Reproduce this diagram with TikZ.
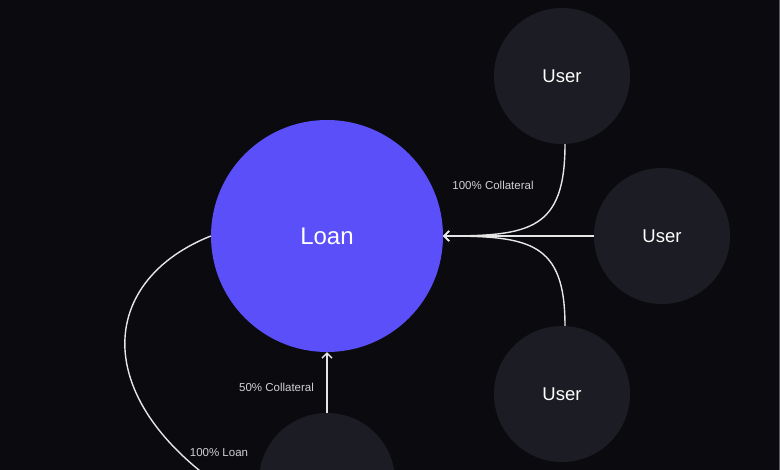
\documentclass[tikz,border=0pt]{standalone}
\usepackage{fontspec}
\setmainfont{Liberation Sans}
\usetikzlibrary{arrows.meta}
\definecolor{bg}{HTML}{0B0B0F}
\definecolor{loanc}{HTML}{5A4FF9}
\definecolor{userc}{HTML}{1C1C24}
\definecolor{linec}{HTML}{E6E6E6}
\definecolor{labc}{HTML}{D0D0D4}
\definecolor{edgec}{HTML}{5A5A60}
\tikzset{
  loanbox/.style={circle, fill=loanc, minimum size=232pt, inner sep=0pt, text=white, font=\fontsize{24}{28}\selectfont},
  userbox/.style={circle, fill=userc, minimum size=136pt, inner sep=0pt, text=white, font=\fontsize{18.5}{22}\selectfont},
  flow/.style={draw=linec, line width=1.4pt, -{Straight Barb[length=5pt,width=10pt,line width=1.3pt]}},
  plain/.style={draw=linec, line width=1.4pt},
  lab/.style={text=labc, font=\fontsize{11.5}{14}\selectfont, inner sep=0pt}
}
\begin{document}
\begin{tikzpicture}[x=1pt,y=-1pt]
\fill[bg] (0,0) rectangle (780,470);
\useasboundingbox (0,0) rectangle (780,470);
\draw[edgec, line width=1pt] (779,0) -- (779,470);
\begin{scope}
\clip (0,0) rectangle (778.5,470);
\node[loanbox] (loan) at (327,236) {Loan};
\node[userbox] (u1) at (562,76) {User};
\node[userbox] (u2) at (662,236) {User};
\node[userbox] (u3) at (562,394) {User};
\node[userbox] (u4) at (327,481) {};
\path[flow] ([xshift=3pt]u1.south) .. controls (565,230) and (530,236) .. (loan.east);
\path[flow] (u2.west) -- (loan.east);
\path[flow] ([xshift=3pt]u3.north) .. controls (565,242) and (530,236) .. (loan.east);
\path[flow] (u4.north) -- (loan.south);
\path[plain] (loan.west) .. controls (88,285) and (88,420) .. (u4.210);
\node[lab] (l1) at (493,185) {100\% Collateral};
\node[lab] (l2) at (276.5,387) {50\% Collateral};
\node[lab] (l3) at (219,453) {100\% Loan};
\end{scope}
\end{tikzpicture}
\end{document}
